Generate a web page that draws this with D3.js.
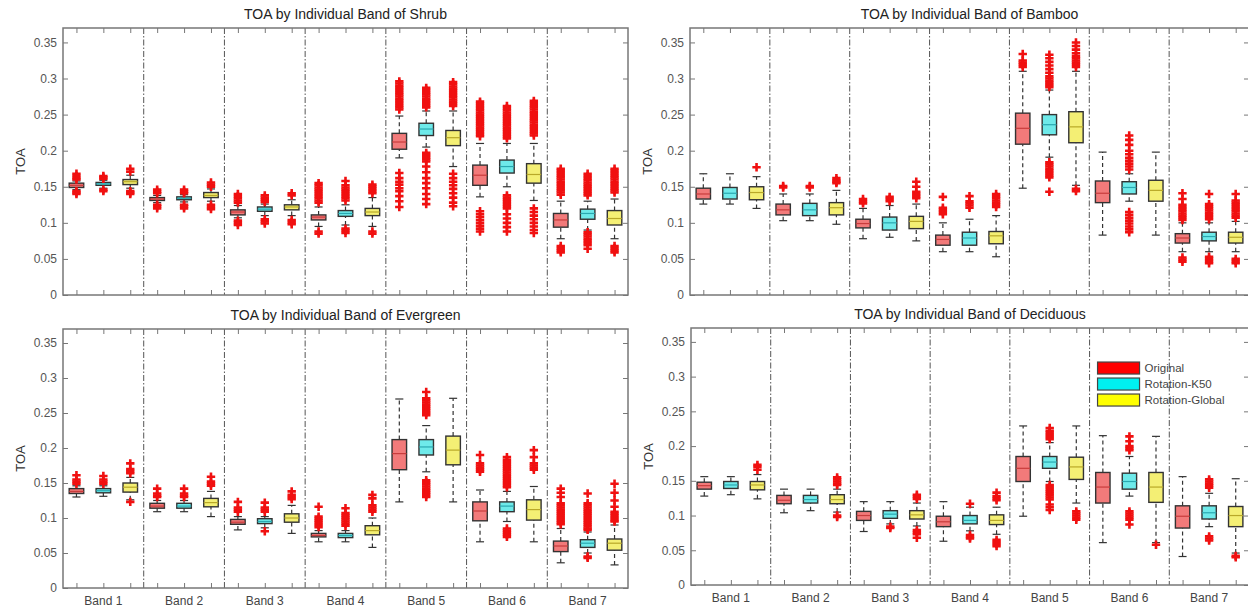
<!DOCTYPE html>
<html>
<head>
<meta charset="utf-8">
<script src="https://cdn.jsdelivr.net/npm/d3@7"></script>
<style>
body { margin: 0; background: #fff; }
text { font-family: "Liberation Sans", Arial, sans-serif; }
</style>
</head>
<body>
<div class="chart"></div>
<script>
var bands = [`Band 1`, `Band 2`, `Band 3`, `Band 4`, `Band 5`, `Band 6`, `Band 7`];
var methods = [`Original`, `Rotation-K50`, `Rotation-Global`];
var yTicks = [0, 0.05, 0.1, 0.15, 0.2, 0.25, 0.3, 0.35];

// box stats per box: [lower whisker, q1, median, q3, upper whisker]
// box order: band 1 (Original, K50, Global), band 2 (...), ...
var shrubStats = [
  [0.146,0.149,0.152,0.155,0.158],[0.148,0.152,0.154,0.156,0.159],[0.148,0.153,0.157,0.160,0.166],
  [0.128,0.131,0.133,0.135,0.138],[0.129,0.132,0.134,0.136,0.139],[0.130,0.135,0.138,0.142,0.147],
  [0.107,0.111,0.115,0.118,0.124],[0.110,0.116,0.119,0.122,0.126],[0.110,0.118,0.122,0.125,0.132],
  [0.095,0.104,0.108,0.111,0.122],[0.097,0.109,0.113,0.117,0.125],[0.095,0.110,0.115,0.120,0.135],
  [0.190,0.202,0.212,0.224,0.248],[0.205,0.221,0.230,0.238,0.255],[0.178,0.207,0.218,0.228,0.255],
  [0.136,0.152,0.166,0.180,0.210],[0.150,0.169,0.178,0.187,0.210],[0.131,0.155,0.167,0.182,0.210],
  [0.078,0.094,0.104,0.113,0.130],[0.090,0.105,0.113,0.119,0.130],[0.078,0.097,0.106,0.117,0.133]
];
var shrubOut = [
  [0.168,0.165,0.162,0.160,0.144,0.142,0.140],
  [0.165,0.163,0.161,0.146,0.144],
  [0.175,0.171,0.144,0.142,0.140],
  [0.146,0.143,0.141,0.125,0.123,0.120],
  [0.146,0.143,0.141,0.125,0.123,0.120],
  [0.156,0.153,0.150,0.125,0.122,0.119],
  [0.140,0.137,0.134,0.131,0.128,0.103,0.100,0.097],
  [0.138,0.135,0.132,0.129,0.105,0.102,0.099],
  [0.141,0.138,0.104,0.101,0.098],
  [0.155,0.152,0.149,0.146,0.143,0.140,0.137,0.134,0.131,0.128,0.088,0.085],
  [0.158,0.152,0.149,0.146,0.143,0.140,0.137,0.134,0.131,0.092,0.089,0.086],
  [0.153,0.150,0.147,0.144,0.141,0.088,0.085],
  [0.296,0.293,0.290,0.287,0.284,0.281,0.278,0.275,0.272,0.269,0.266,0.263,0.260,0.257,0.169,0.162,0.157,0.153,0.148,0.144,0.137,0.130,0.122],
  [0.287,0.284,0.281,0.278,0.275,0.272,0.269,0.266,0.263,0.260,0.197,0.194,0.191,0.188,0.185,0.178,0.170,0.162,0.155,0.148,0.140,0.133,0.126],
  [0.295,0.292,0.289,0.286,0.283,0.280,0.277,0.274,0.271,0.268,0.265,0.262,0.168,0.162,0.157,0.152,0.147,0.141,0.135,0.128,0.123],
  [0.268,0.265,0.262,0.259,0.256,0.253,0.250,0.247,0.244,0.241,0.238,0.235,0.232,0.229,0.226,0.223,0.220,0.116,0.112,0.108,0.104,0.100,0.096,0.092,0.088],
  [0.262,0.259,0.256,0.253,0.250,0.247,0.244,0.241,0.238,0.235,0.232,0.229,0.226,0.223,0.220,0.217,0.138,0.135,0.132,0.129,0.126,0.123,0.120,0.112,0.106,0.100,0.094,0.088],
  [0.269,0.266,0.263,0.260,0.257,0.254,0.251,0.248,0.245,0.242,0.239,0.236,0.233,0.230,0.227,0.224,0.221,0.120,0.115,0.110,0.105,0.100,0.095,0.090,0.086],
  [0.175,0.172,0.169,0.166,0.163,0.160,0.157,0.154,0.151,0.148,0.145,0.142,0.139,0.068,0.065,0.062,0.059],
  [0.168,0.165,0.162,0.159,0.156,0.153,0.150,0.147,0.144,0.141,0.138,0.087,0.084,0.081,0.078,0.075,0.072,0.069,0.064],
  [0.175,0.172,0.169,0.166,0.163,0.160,0.157,0.154,0.151,0.148,0.145,0.142,0.068,0.065,0.062,0.059]
];

var bambooStats = [
  [0.126,0.133,0.140,0.148,0.168],[0.126,0.133,0.141,0.149,0.168],[0.120,0.132,0.142,0.150,0.164],
  [0.103,0.111,0.118,0.126,0.140],[0.103,0.110,0.118,0.127,0.140],[0.098,0.111,0.121,0.128,0.145],
  [0.078,0.093,0.099,0.105,0.120],[0.080,0.090,0.100,0.108,0.124],[0.075,0.092,0.102,0.109,0.126],
  [0.060,0.069,0.077,0.083,0.100],[0.060,0.069,0.079,0.087,0.105],[0.053,0.071,0.082,0.088,0.110],
  [0.148,0.209,0.231,0.252,0.310],[0.191,0.222,0.236,0.250,0.284],[0.152,0.211,0.233,0.254,0.310],
  [0.083,0.128,0.141,0.158,0.198],[0.130,0.140,0.149,0.157,0.168],[0.083,0.130,0.145,0.159,0.198],
  [0.060,0.072,0.079,0.085,0.100],[0.060,0.075,0.081,0.087,0.100],[0.060,0.072,0.080,0.087,0.102]
];
var bambooOut = [
  [], [], [0.177],
  [0.151,0.149], [0.151,0.149], [0.162,0.159,0.157,0.155],
  [0.133,0.130,0.127], [0.136,0.133,0.130], [0.157,0.150,0.143,0.140,0.137,0.134],
  [0.136,0.121,0.118,0.115,0.112], [0.137,0.130,0.127,0.124,0.121], [0.140,0.137,0.134,0.131,0.128,0.125,0.122],
  [0.334,0.325,0.322,0.319,0.316],
  [0.333,0.328,0.323,0.318,0.313,0.308,0.303,0.300,0.297,0.294,0.291,0.288,0.184,0.181,0.178,0.175,0.172,0.169,0.166,0.163,0.143],
  [0.350,0.345,0.340,0.335,0.331,0.328,0.325,0.322,0.319,0.316,0.147,0.144],
  [],
  [0.221,0.215,0.208,0.200,0.195,0.190,0.186,0.182,0.178,0.174,0.115,0.111,0.107,0.103,0.099,0.095,0.091,0.087],
  [],
  [0.141,0.133,0.125,0.122,0.119,0.116,0.113,0.110,0.107,0.104,0.052,0.049,0.046],
  [0.140,0.126,0.123,0.120,0.117,0.114,0.111,0.108,0.105,0.053,0.050,0.047,0.044],
  [0.140,0.131,0.128,0.125,0.122,0.119,0.116,0.113,0.110,0.107,0.050,0.047,0.044]
];

var evergreenStats = [
  [0.130,0.135,0.138,0.142,0.146],[0.131,0.136,0.139,0.142,0.146],[0.126,0.137,0.144,0.150,0.158],
  [0.109,0.114,0.117,0.121,0.125],[0.109,0.114,0.117,0.121,0.125],[0.102,0.116,0.122,0.128,0.138],
  [0.083,0.091,0.094,0.098,0.102],[0.086,0.092,0.095,0.099,0.102],[0.078,0.094,0.100,0.106,0.118],
  [0.066,0.073,0.075,0.078,0.082],[0.066,0.072,0.075,0.078,0.082],[0.058,0.076,0.082,0.089,0.100],
  [0.123,0.169,0.192,0.212,0.270],[0.166,0.190,0.2015,0.212,0.232],[0.123,0.176,0.197,0.217,0.271],
  [0.066,0.096,0.110,0.123,0.140],[0.095,0.109,0.117,0.123,0.138],[0.066,0.097,0.112,0.126,0.145],
  [0.036,0.052,0.060,0.067,0.085],[0.050,0.058,0.064,0.069,0.080],[0.033,0.054,0.064,0.070,0.090]
];
var evergreenOut = [
  [0.161,0.155,0.152,0.149], [0.160,0.155,0.152,0.149], [0.178,0.170,0.167,0.164,0.123],
  [0.142,0.135,0.132,0.130], [0.142,0.135,0.132,0.130], [0.159,0.152,0.149,0.146],
  [0.123,0.115,0.112,0.109], [0.122,0.115,0.112,0.109,0.081], [0.138,0.133,0.130,0.127],
  [0.116,0.102,0.099,0.096,0.093,0.090,0.087],
  [0.114,0.107,0.104,0.101,0.098,0.095,0.092,0.089],
  [0.133,0.128,0.118,0.115,0.112,0.109],
  [],
  [0.280,0.271,0.268,0.265,0.262,0.259,0.256,0.253,0.250,0.247,0.154,0.151,0.148,0.145,0.142,0.139,0.136,0.133,0.130],
  [],
  [0.190,0.178,0.175,0.172,0.169,0.166],
  [0.187,0.183,0.180,0.177,0.174,0.171,0.168,0.165,0.162,0.159,0.156,0.153,0.150,0.147,0.144,0.085,0.082,0.079,0.076,0.073],
  [0.197,0.187,0.178,0.175,0.172,0.169],
  [0.142,0.136,0.130,0.121,0.118,0.115,0.112,0.109,0.106,0.103,0.100,0.097,0.094,0.091],
  [0.135,0.121,0.118,0.115,0.112,0.109,0.106,0.103,0.100,0.097,0.094,0.091,0.088,0.085,0.083,0.045,0.043],
  [0.149,0.136,0.125,0.116,0.109,0.106,0.103,0.100,0.097,0.095]
];

var deciduousStats = [
  [0.128,0.138,0.143,0.148,0.156],[0.130,0.139,0.144,0.149,0.156],[0.124,0.137,0.144,0.149,0.159],
  [0.104,0.117,0.122,0.129,0.138],[0.107,0.118,0.123,0.129,0.138],[0.105,0.117,0.123,0.130,0.138],
  [0.077,0.093,0.100,0.106,0.120],[0.088,0.096,0.102,0.107,0.120],[0.085,0.095,0.101,0.107,0.118],
  [0.063,0.084,0.091,0.099,0.120],[0.078,0.088,0.093,0.100,0.112],[0.073,0.087,0.093,0.101,0.112],
  [0.099,0.149,0.168,0.185,0.229],[0.149,0.168,0.177,0.185,0.205],[0.118,0.152,0.170,0.184,0.229],
  [0.061,0.118,0.141,0.162,0.215],[0.128,0.138,0.149,0.161,0.185],[0.061,0.119,0.141,0.162,0.214],
  [0.041,0.082,0.099,0.114,0.156],[0.084,0.095,0.104,0.114,0.132],[0.046,0.084,0.100,0.113,0.153]
];
var deciduousOut = [
  [], [], [0.173,0.170,0.166],
  [], [], [0.155,0.152,0.149,0.146,0.144,0.100,0.098],
  [], [0.084,0.082], [0.130,0.127,0.124,0.079,0.076,0.073,0.068],
  [], [0.117,0.072,0.069,0.067], [0.133,0.128,0.125,0.122,0.065,0.062,0.059,0.056],
  [],
  [0.226,0.222,0.219,0.216,0.213,0.210,0.144,0.141,0.138,0.135,0.132,0.129,0.126,0.123,0.116,0.112,0.108],
  [0.106,0.103,0.100,0.097,0.094],
  [],
  [0.214,0.207,0.200,0.197,0.194,0.106,0.103,0.100,0.097,0.094,0.087],
  [0.058],
  [],
  [0.152,0.149,0.146,0.143,0.140,0.070,0.067,0.064],
  [0.042,0.040]
];

var panels = [
  {title: `TOA by Individual Band of Shrub`, stats: shrubStats, out: shrubOut, left: 63, right: 628, top: 28, bottom: 295, labels: false},
  {title: `TOA by Individual Band of Bamboo`, stats: bambooStats, out: bambooOut, left: 690, right: 1249, top: 28, bottom: 295, labels: false},
  {title: `TOA by Individual Band of Evergreen`, stats: evergreenStats, out: evergreenOut, left: 63, right: 628, top: 329, bottom: 588, labels: true},
  {title: `TOA by Individual Band of Deciduous`, stats: deciduousStats, out: deciduousOut, left: 691, right: 1249, top: 328, bottom: 585, labels: true, legend: true}
];

var fills = [`#f27a7a`, `#6eeaea`, `#f4ef74`];
var medians = [`#c83c3c`, `#2aa8b0`, `#b8a828`];
var legendFills = [`#ff0000`, `#00f0f0`, `#ffff00`];

var svg = d3.select(`.chart`)
  .append(`svg`)
  .attr(`width`, 1248)
  .attr(`height`, 608);

var fmt = d => d === 0 ? `0` : String(+d.toFixed(2));
var positions = d3.range(1, 22);
var dividers = d3.range(1, 7).map(i => i * 3 + 0.5);

panels.forEach(p => {
  var g = svg.append(`g`);
  var x = d3.scaleLinear().domain([0.5, 21.5]).range([p.left, p.right]);
  var y = d3.scaleLinear().domain([0, 0.37]).range([p.bottom, p.top]);

  // dividers between bands
  g.selectAll(`.div`).data(dividers).enter().append(`line`)
    .attr(`x1`, d => x(d)).attr(`x2`, d => x(d))
    .attr(`y1`, p.top).attr(`y2`, p.bottom)
    .style(`stroke`, `#555`).style(`stroke-width`, 1)
    .style(`stroke-dasharray`, `6,2,1.5,2`);

  // axes, ticks pointing inward
  var axes = [
    g.append(`g`).attr(`transform`, `translate(${p.left},0)`)
      .call(d3.axisLeft(y).tickValues(yTicks).tickSizeInner(-5).tickSizeOuter(0).tickPadding(6).tickFormat(fmt)),
    g.append(`g`).attr(`transform`, `translate(${p.right},0)`)
      .call(d3.axisRight(y).tickValues(yTicks).tickSizeInner(-5).tickSizeOuter(0).tickFormat(``)),
    g.append(`g`).attr(`transform`, `translate(0,${p.top})`)
      .call(d3.axisTop(x).tickValues(positions).tickSizeInner(-5).tickSizeOuter(0).tickFormat(``)),
    g.append(`g`).attr(`transform`, `translate(0,${p.bottom})`)
      .call(d3.axisBottom(x).tickValues(positions).tickSizeInner(-5).tickSizeOuter(0).tickFormat(``))
  ];
  axes.forEach(a => {
    a.select(`.domain`).remove();
    a.selectAll(`line`).style(`stroke`, `#777`).style(`stroke-width`, 1);
    a.selectAll(`text`).style(`fill`, `#555`).style(`font-size`, `12px`);
  });

  g.append(`rect`)
    .attr(`x`, p.left).attr(`y`, p.top)
    .attr(`width`, p.right - p.left).attr(`height`, p.bottom - p.top)
    .style(`fill`, `none`).style(`stroke`, `#777`).style(`stroke-width`, 1.5);

  g.append(`text`)
    .attr(`x`, (p.left + p.right) / 2).attr(`y`, p.top - 9)
    .style(`text-anchor`, `middle`).style(`font-size`, `14px`).style(`fill`, `#222`)
    .text(p.title);

  g.append(`text`)
    .attr(`transform`, `translate(${p.left - 38},${(p.top + p.bottom) / 2}) rotate(-90)`)
    .style(`text-anchor`, `middle`).style(`font-size`, `13px`).style(`fill`, `#333`)
    .text(`TOA`);

  if (p.labels) {
    g.selectAll(`.band`).data(bands).enter().append(`text`)
      .attr(`x`, (d, i) => x(i * 3 + 2)).attr(`y`, p.bottom + 17)
      .style(`text-anchor`, `middle`).style(`font-size`, `12px`).style(`fill`, `#444`)
      .text(d => d);
  }

  var boxes = g.selectAll(`.box`)
    .data(p.stats.map((s, i) => ({pos: i + 1, s: s, m: i % 3, out: p.out[i]})))
    .enter().append(`g`).attr(`class`, `box`);

  var half = x(1.27) - x(1);
  var cap = x(1.15) - x(1);

  // whiskers
  boxes.append(`line`)
    .attr(`x1`, d => x(d.pos)).attr(`x2`, d => x(d.pos))
    .attr(`y1`, d => y(d.s[0])).attr(`y2`, d => y(d.s[1]))
    .style(`stroke`, `#333`).style(`stroke-width`, 1.2).style(`stroke-dasharray`, `4,3`);
  boxes.append(`line`)
    .attr(`x1`, d => x(d.pos)).attr(`x2`, d => x(d.pos))
    .attr(`y1`, d => y(d.s[3])).attr(`y2`, d => y(d.s[4]))
    .style(`stroke`, `#333`).style(`stroke-width`, 1.2).style(`stroke-dasharray`, `4,3`);
  [0, 4].forEach(k => {
    boxes.append(`line`)
      .attr(`x1`, d => x(d.pos) - cap).attr(`x2`, d => x(d.pos) + cap)
      .attr(`y1`, d => y(d.s[k])).attr(`y2`, d => y(d.s[k]))
      .style(`stroke`, `#333`).style(`stroke-width`, 1.2);
  });

  boxes.append(`rect`)
    .attr(`x`, d => x(d.pos) - half)
    .attr(`y`, d => y(d.s[3]))
    .attr(`width`, half * 2)
    .attr(`height`, d => y(d.s[1]) - y(d.s[3]))
    .style(`fill`, d => fills[d.m])
    .style(`stroke`, `#333`).style(`stroke-width`, 1.4);

  boxes.append(`line`)
    .attr(`x1`, d => x(d.pos) - half).attr(`x2`, d => x(d.pos) + half)
    .attr(`y1`, d => y(d.s[2])).attr(`y2`, d => y(d.s[2]))
    .style(`stroke`, d => medians[d.m]).style(`stroke-width`, 1.2);

  // outliers as red plus markers
  boxes.selectAll(`.out`)
    .data(d => d.out.map(v => ({pos: d.pos, v: v})))
    .enter().append(`path`)
    .attr(`d`, d => `M${x(d.pos) - 4.2},${y(d.v)}h8.4M${x(d.pos)},${y(d.v) - 4.2}v8.4`)
    .style(`stroke`, `#f01010`).style(`stroke-width`, 2.6).style(`fill`, `none`);

  if (p.legend) {
    var lg = g.append(`g`).attr(`transform`, `translate(${x(15.8)},${y(0.321)})`);
    var items = lg.selectAll(`.item`).data(methods).enter().append(`g`)
      .attr(`transform`, (d, i) => `translate(0,${i * 16})`);
    items.append(`rect`)
      .attr(`width`, 42).attr(`height`, 12)
      .style(`fill`, (d, i) => legendFills[i])
      .style(`stroke`, `#444`).style(`stroke-width`, 1.2);
    items.append(`text`)
      .attr(`x`, 47).attr(`y`, 10)
      .style(`font-size`, `11.5px`).style(`fill`, `#444`)
      .text(d => d);
  }
});
</script>
</body>
</html>
